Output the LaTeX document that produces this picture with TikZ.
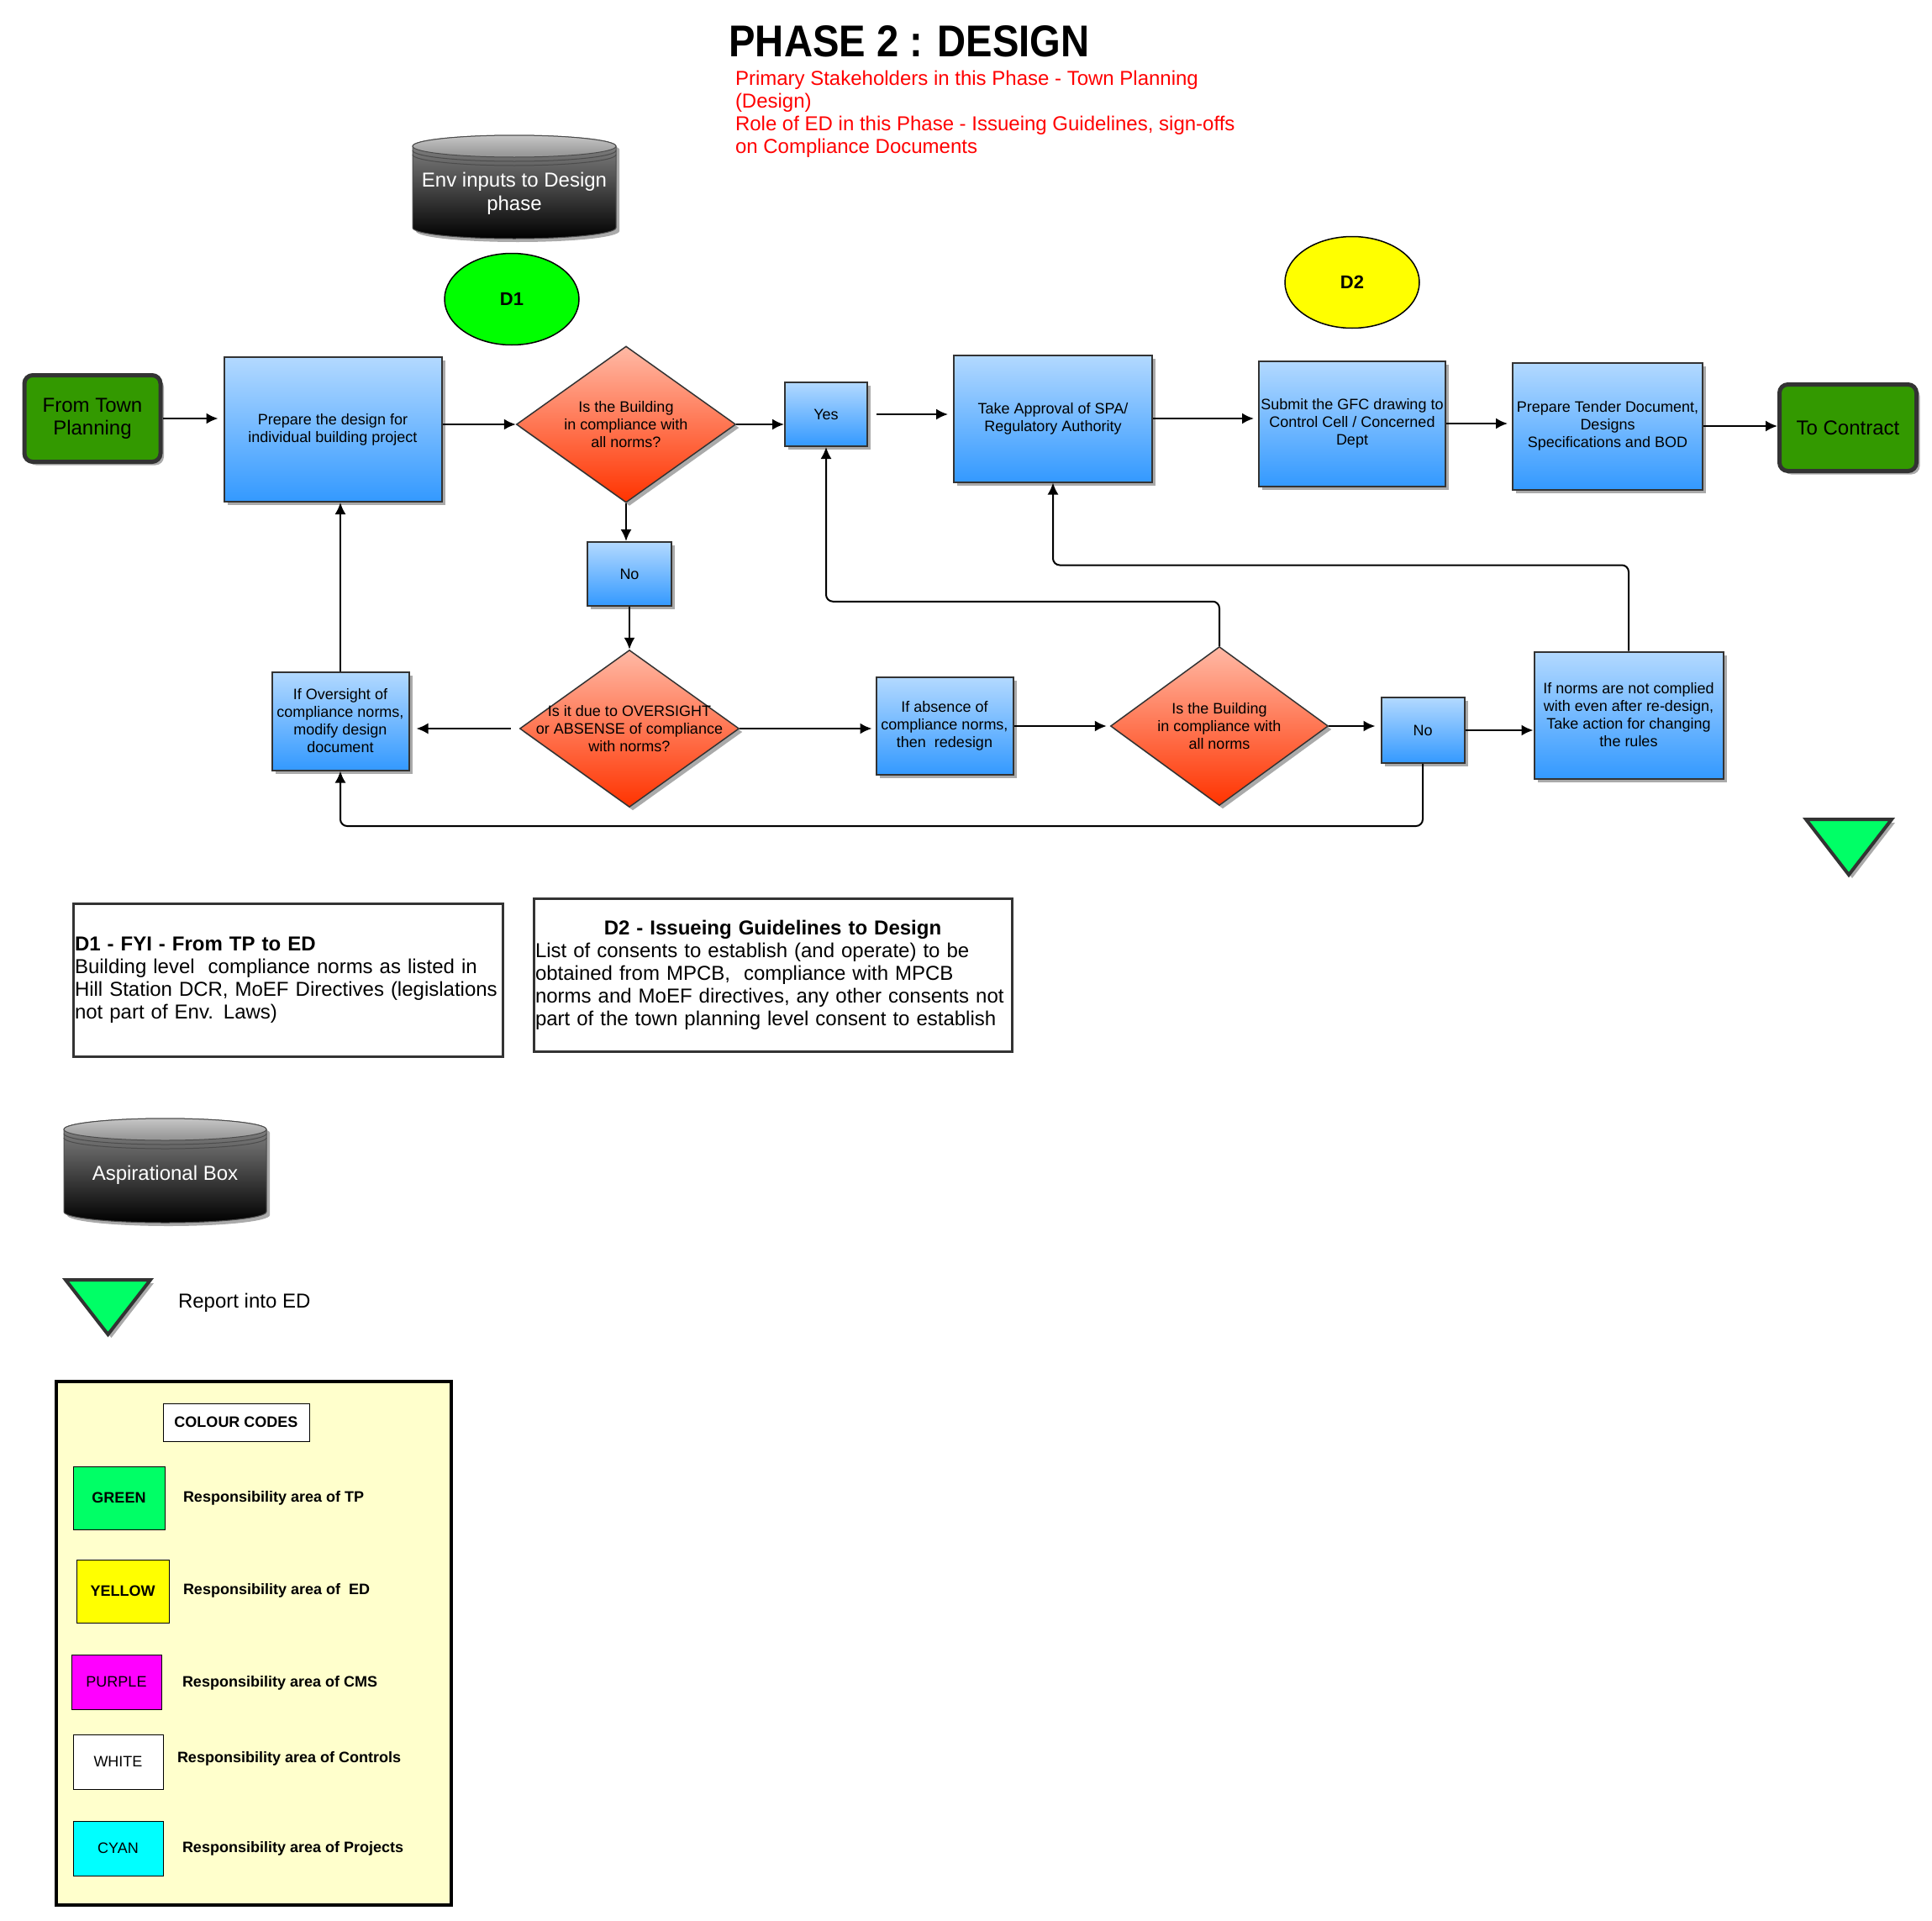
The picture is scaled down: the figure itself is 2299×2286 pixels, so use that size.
\documentclass[tikz,border=0pt]{standalone}
\usepackage{graphicx}
\usepackage{fontspec}
\setmainfont{Liberation Sans}
\usetikzlibrary{arrows.meta,shapes.geometric,shadows}

\definecolor{bluetop}{RGB}{179,217,255}
\definecolor{bluebot}{RGB}{51,153,255}
\definecolor{redtop}{RGB}{255,185,165}
\definecolor{redbot}{RGB}{255,51,0}
\definecolor{tpgreen}{RGB}{51,153,0}
\definecolor{boxline}{RGB}{51,51,51}
\definecolor{shadowgray}{RGB}{170,170,170}
\definecolor{reportgreen}{RGB}{0,255,102}
\definecolor{legendfill}{RGB}{255,255,204}
\definecolor{d1green}{RGB}{0,255,0}
\definecolor{edyellow}{RGB}{255,255,0}
\definecolor{cmspurple}{RGB}{255,0,255}
\definecolor{projcyan}{RGB}{0,255,255}
\definecolor{notered}{RGB}{255,0,0}

\tikzset{
  shadowed/.style={drop shadow={shadow xshift=2pt,shadow yshift=-2pt,fill=shadowgray,opacity=1}},
  proc/.style={rectangle,draw=boxline,line width=1pt,top color=bluetop,bottom color=bluebot,
    align=center,inner sep=1pt,font=\fontsize{9}{10.5}\selectfont,shadowed},
  decision/.style={diamond,draw=boxline,line width=0.75pt,top color=redtop,bottom color=redbot,
    inner sep=0pt,shadowed},
  qtext/.style={align=center,inner sep=0pt,font=\fontsize{9}{10.5}\selectfont},
  terminal/.style={rectangle,rounded corners=5pt,draw=boxline,line width=2.5pt,fill=tpgreen,
    align=center,font=\fontsize{12}{13.5}\selectfont,shadowed},
  dnode/.style={ellipse,draw,line width=0.75pt,font=\fontsize{11}{13}\selectfont\bfseries,
    minimum width=80pt,minimum height=54.5pt},
  notebox/.style={rectangle,draw=boxline,line width=1.5pt,align=left,inner sep=1pt,
    font=\fontsize{12}{13.5}\selectfont,minimum height=91pt},
  swatch/.style={rectangle,draw,line width=0.5pt,font=\fontsize{9}{11}\selectfont},
  legendtext/.style={anchor=west,inner sep=0pt,font=\fontsize{9}{11}\selectfont\bfseries},
  cylbody/.style={draw=black!70,line width=0.5pt,top color=gray!90,bottom color=black,shadowed},
  cyltop/.style={draw=black!70,line width=0.5pt,top color=gray!45,bottom color=gray!85},
  cylline/.style={draw=black!70,line width=0.5pt},
  cyltext/.style={text=white,align=center,font=\fontsize{12}{14}\selectfont},
  report/.style={draw=boxline,line width=2pt,fill=reportgreen,line join=miter,shadowed},
  backline/.style={->,rounded corners=4pt}
}

\begin{document}
\begin{tikzpicture}[x=0.5pt,y=-0.5pt,>={Latex[length=7pt,width=6.5pt]},line width=1pt]
  \useasboundingbox (0,0) rectangle (2299,2286);
  \fill[white] (0,0) rectangle (2299,2286);

  \node[font=\fontsize{26.5}{30}\selectfont\bfseries] (title) at (1082,49) {\scalebox{0.89}[1]{PHASE 2 : DESIGN}};
  \node[anchor=west,align=left,text=notered,font=\fontsize{12}{13.5}\selectfont,inner sep=0pt] (roles) at (874,136)
    {Primary Stakeholders in this Phase - Town Planning\\(Design)\\Role of ED in this Phase - Issueing Guidelines, sign-offs\\on Compliance Documents};

  \path[cylbody] (491,174) -- (491,271) arc[start angle=180,end angle=360,x radius=60.5pt,y radius=6.5pt]
    -- (733,174) arc[start angle=0,end angle=180,x radius=60.5pt,y radius=6.5pt] -- cycle;
  \path[cyltop] (612,174) ellipse[x radius=60.5pt,y radius=6.5pt];
  \draw[cylline] (491,179) arc[start angle=180,end angle=360,x radius=60.5pt,y radius=6.5pt];
  \draw[cylline] (491,184) arc[start angle=180,end angle=360,x radius=60.5pt,y radius=6.5pt];
  \node[cyltext] (env) at (612,230) {Env inputs to Design\\phase};

  \node[dnode,fill=d1green] (d1) at (609,356) {D1};
  \node[dnode,fill=edyellow] (d2) at (1609,336) {D2};

  \node[terminal,minimum width=81pt,minimum height=51.5pt] (from) at (110,498) {From Town\\Planning};
  \node[proc,minimum width=129.5pt,minimum height=86pt] (prep) at (396,511) {Prepare the design for\\individual building project};
  \node[decision,minimum width=130.5pt,minimum height=93pt] (q1) at (745,505) {};
  \node[qtext] (q1t) at (q1.center) {Is the Building\\in compliance with\\all norms?};
  \node[proc,minimum width=49pt,minimum height=38pt] (yes) at (983,493) {Yes};
  \node[proc,minimum width=118pt,minimum height=75.5pt] (spa) at (1253,498) {Take Approval of SPA/\\Regulatory Authority};
  \node[proc,minimum width=111pt,minimum height=74.5pt] (gfc) at (1609,504) {Submit the GFC drawing to\\Control Cell / Concerned\\Dept};
  \node[proc,minimum width=113pt,minimum height=75.5pt] (tender) at (1913,507) {Prepare Tender Document,\\Designs\\Specifications and BOD};
  \node[terminal,minimum width=81.5pt,minimum height=51.5pt] (contract) at (2199,509) {To Contract};

  \node[proc,minimum width=50pt,minimum height=38pt] (no1) at (749,683) {No};
  \node[decision,minimum width=130.5pt,minimum height=93.5pt] (q2) at (749,867) {};
  \node[qtext] (q2t) at (q2.center) {Is it due to OVERSIGHT\\or ABSENSE of compliance\\with norms?};
  \node[proc,minimum width=81.5pt,minimum height=58.5pt] (oversight) at (405,858) {If Oversight of\\compliance norms,\\modify design\\document};
  \node[proc,minimum width=81.5pt,minimum height=58pt] (absence) at (1124,864) {If absence of\\compliance norms,\\then\ \ redesign};
  \node[decision,minimum width=129.5pt,minimum height=94.5pt] (q3) at (1451,864) {};
  \node[qtext] (q3t) at (q3.center) {Is the Building\\in compliance with\\all norms};
  \node[proc,minimum width=49.5pt,minimum height=39pt] (no2) at (1693,869) {No};
  \node[proc,minimum width=112.5pt,minimum height=75.5pt] (norms) at (1938,851) {If norms are not complied\\with even after re-design,\\Take action for changing\\the rules};

  \draw[->,shorten >=3pt] (from.east) -- (from.east -| prep.west);
  \draw[->] (prep.east |- q1.west) -- (q1.west);
  \draw[->] (q1.east) -- (q1.east -| yes.west);
  \draw[->,shorten <=5pt,shorten >=3pt] (yes.east) -- (yes.east -| spa.west);
  \draw[->,shorten >=2.5pt] (spa.east) -- (spa.east -| gfc.west);
  \draw[->,shorten >=2.5pt] (gfc.east) -- (gfc.east -| tender.west);
  \draw[->] (tender.east) -- (tender.east -| contract.west);
  \draw[->] (q1.south) -- (q1.south |- no1.north);
  \draw[->] (no1.south) -- (q2.north);
  \draw[->,shorten <=5pt,shorten >=4pt] (q2.west) -- (q2.west -| oversight.east);
  \draw[->,shorten >=2pt] (q2.east) -- (q2.east -| absence.west);
  \draw[->,shorten >=2pt] (absence.east) -- (q3.west);
  \draw[->,shorten >=3pt] (q3.east) -- (q3.east -| no2.west);
  \draw[->] (no2.east) -- (no2.east -| norms.west);
  \draw[->] (oversight.north) -- (oversight.north |- prep.south);
  \draw[backline] (q3.north) -- ++(0,-53) -| (yes.south);
  \draw[backline] (norms.north) -- ++(0,-102) -| (spa.south);
  \draw[backline] (no2.south) -- ++(0,74) -| (oversight.south);

  \draw[report] (2149,975) -- (2251,975) -- (2200,1041) -- cycle;

  \node[notebox,text width=253.5pt] (d1note) at (342.5,1166)
    {\textbf{D1 - FYI - From TP to ED}\\Building level\ \ compliance norms as listed in\\Hill Station DCR, MoEF Directives (legislations\\not part of Env. Laws)};
  \node[notebox,text width=282.5pt] (d2note) at (919.5,1160)
    {{\centering\textbf{D2 - Issueing Guidelines to Design}\par}List of consents to establish (and operate) to be\\obtained from MPCB,\ \ compliance with MPCB\\norms and MoEF directives, any other consents not\\part of the town planning level consent to establish};

  \path[cylbody] (76,1344) -- (76,1442) arc[start angle=180,end angle=360,x radius=60.25pt,y radius=6.5pt]
    -- (317,1344) arc[start angle=0,end angle=180,x radius=60.25pt,y radius=6.5pt] -- cycle;
  \path[cyltop] (196.5,1344) ellipse[x radius=60.25pt,y radius=6.5pt];
  \draw[cylline] (76,1349) arc[start angle=180,end angle=360,x radius=60.25pt,y radius=6.5pt];
  \draw[cylline] (76,1354) arc[start angle=180,end angle=360,x radius=60.25pt,y radius=6.5pt];
  \node[cyltext] (aspire) at (196.5,1398) {Aspirational Box};

  \draw[report] (78,1523) -- (179,1523) -- (128.5,1588) -- cycle;
  \node[anchor=west,inner sep=0pt,font=\fontsize{12}{14}\selectfont] (reportlbl) at (211,1550) {Report into ED};

  \node[draw,line width=2pt,fill=legendfill,minimum width=235pt,minimum height=311.5pt] (legend) at (302,1955.5) {};
  \node[swatch,fill=white,minimum width=87pt,minimum height=22.5pt,font=\fontsize{9}{11}\selectfont\bfseries] (codes) at (281,1692.5) {COLOUR CODES};
  \node[swatch,fill=reportgreen,minimum width=54.5pt,minimum height=37.5pt,font=\fontsize{9}{11}\selectfont\bfseries] (sgreen) at (141.5,1782.5) {GREEN};
  \node[legendtext] (lgreen) at (217,1783) {Responsibility area of TP};
  \node[swatch,fill=edyellow,minimum width=55pt,minimum height=37.5pt,font=\fontsize{9}{11}\selectfont\bfseries] (syellow) at (146,1893.5) {YELLOW};
  \node[legendtext] (lyellow) at (217,1893) {Responsibility area of\ \ ED};
  \node[swatch,fill=cmspurple,minimum width=53.5pt,minimum height=32.5pt] (spurple) at (138.5,2001.5) {PURPLE};
  \node[legendtext] (lpurple) at (216,2003) {Responsibility area of CMS};
  \node[swatch,fill=white,minimum width=53.5pt,minimum height=32.5pt] (swhite) at (140.5,2096.5) {WHITE};
  \node[legendtext] (lwhite) at (210,2093) {Responsibility area of Controls};
  \node[swatch,fill=projcyan,minimum width=53.5pt,minimum height=32.5pt] (scyan) at (140.5,2199.5) {CYAN};
  \node[legendtext] (lcyan) at (216,2200) {Responsibility area of Projects};
\end{tikzpicture}
\end{document}
